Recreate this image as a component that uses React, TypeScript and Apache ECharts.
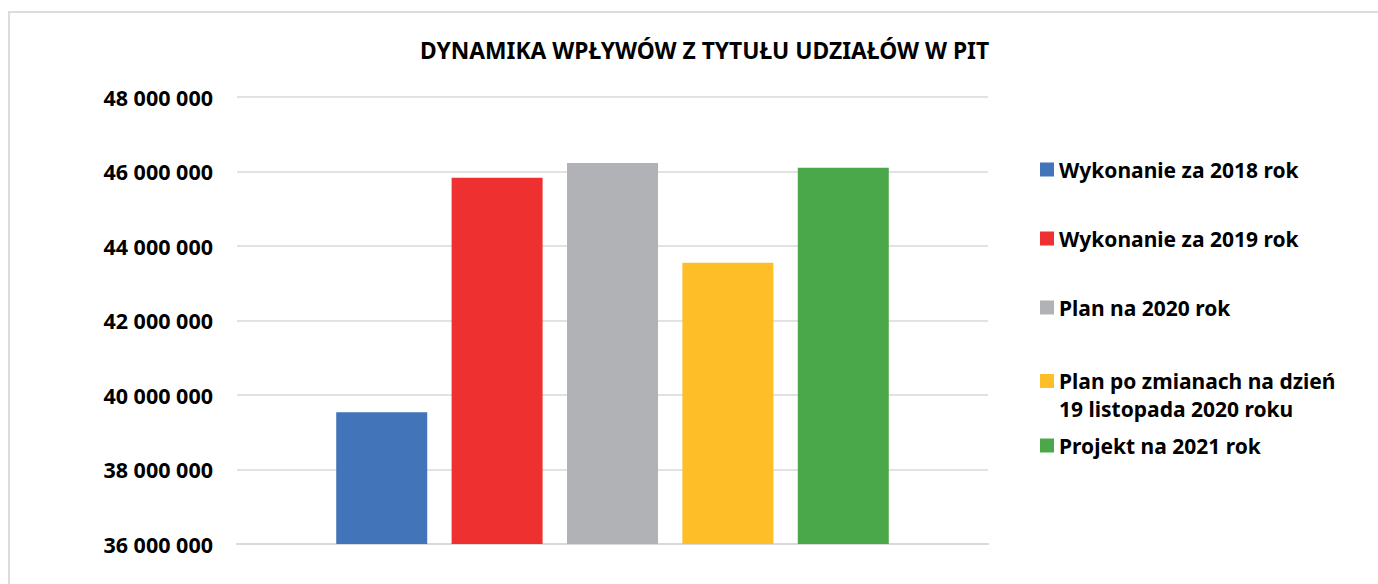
import React, { useEffect, useRef } from "react";
import * as echarts from "echarts";

const titleText = "DYNAMIKA WPŁYWÓW Z TYTUŁU UDZIAŁÓW W PIT";
const categories = ["PIT"];
const seriesNames = [
  "Wykonanie za 2018 rok",
  "Wykonanie za 2019 rok",
  "Plan na 2020 rok",
  "Plan po zmianach na dzień 19 listopada 2020 roku",
  "Projekt na 2021 rok",
];
const legendLabels = [
  "Wykonanie za 2018 rok",
  "Wykonanie za 2019 rok",
  "Plan na 2020 rok",
  "\nPlan po zmianach na dzień\n19 listopada 2020 roku",
  "Projekt na 2021 rok",
];
const seriesValues = [39540000, 45830000, 46230000, 43550000, 46100000];
const seriesColors = ["#4174B9", "#EE3030", "#B1B2B5", "#FDBE27", "#4AA84A"];
const yMin = 36000000;
const yMax = 48000000;
const yInterval = 2000000;

const FONT = "'Noto Sans', sans-serif";

export default function App() {
  const ref = useRef<HTMLDivElement>(null);
  useEffect(() => {
    if (!ref.current) return;
    const chart = echarts.init(ref.current, undefined, { renderer: "svg" });
    const legendTops = [159, 228, 297, 339, 435];
    const legends = seriesNames.map((name, i) => ({
      data: [name],
      orient: "vertical",
      left: 1040,
      top: legendTops[i],
      padding: 0,
      itemWidth: 14,
      itemHeight: 14,
      icon: "rect",
      selectedMode: false,
      formatter: () => legendLabels[i],
      textStyle: {
        fontFamily: FONT,
        fontSize: 21,
        fontWeight: "bold",
        color: "#000",
        lineHeight: i === 3 ? 28 : 14,
      },
    }));
    chart.setOption({
      animation: false,
      backgroundColor: "#fff",
      title: {
        text: titleText,
        left: 420,
        top: 39,
        padding: 0,
        textStyle: {
          fontFamily: FONT,
          fontSize: 22.8,
          fontWeight: "bold",
          color: "#000",
        },
      },
      legend: legends,
      graphic: [
        {
          type: "rect",
          shape: { x: 9, y: 12, width: 1500, height: 700 },
          style: { fill: "none", stroke: "#dcdcdc", lineWidth: 2 },
          silent: true,
        },
      ],
      grid: { left: 237, right: 390, top: 97, bottom: 40 },
      xAxis: {
        type: "category",
        data: categories,
        axisLabel: { show: false },
        axisTick: { show: false },
        axisLine: { lineStyle: { color: "#d9d9d9", width: 2 } },
      },
      yAxis: {
        type: "value",
        min: yMin,
        max: yMax,
        interval: yInterval,
        axisLine: { show: false },
        axisTick: { show: false },
        axisLabel: {
          margin: 24,
          fontFamily: FONT,
          fontSize: 21.5,
          fontWeight: "bold",
          color: "#000",
          formatter: (v: number) =>
            String(Math.round(v)).replace(/\B(?=(\d{3})+(?!\d))/g, " "),
        },
        splitLine: { lineStyle: { color: "#d9d9d9", width: 1.5 } },
      },
      series: seriesNames.map((name, i) => ({
        name,
        type: "bar",
        data: [seriesValues[i]],
        barWidth: 91,
        barGap: "26.8%",
        itemStyle: { color: seriesColors[i] },
      })),
    });
    return () => chart.dispose();
  }, []);
  return (
    <div
      ref={ref}
      style={{ position: "fixed", left: 0, top: 0, width: 1378, height: 584 }}
    />
  );
}
